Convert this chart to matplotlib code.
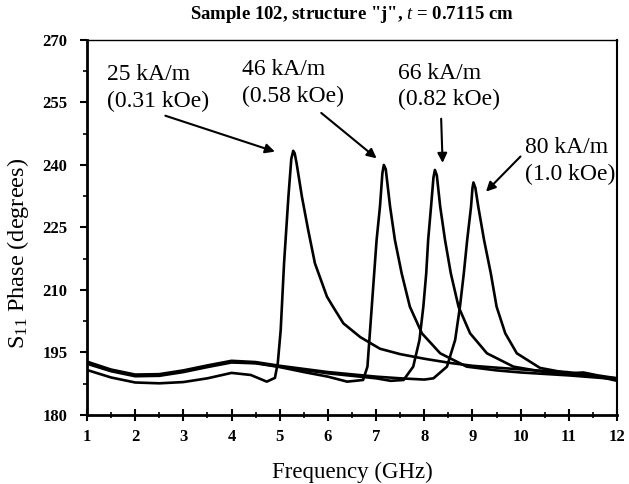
import matplotlib
matplotlib.use("Agg")
import matplotlib.pyplot as plt
from matplotlib.ticker import MultipleLocator

plt.rcParams['font.family'] = ['Liberation Serif', 'DejaVu Serif']
plt.rcParams['mathtext.fontset'] = 'custom'
plt.rcParams['mathtext.rm'] = 'Liberation Serif'
plt.rcParams['mathtext.it'] = 'Liberation Serif:italic'
plt.rcParams['mathtext.bf'] = 'Liberation Serif:bold'

# Data
f_25 = [1.0, 1.5, 2.0, 2.5, 3.0, 3.5, 4.0, 4.4, 4.73, 4.9, 4.96, 5.02, 5.09, 5.18, 5.24, 5.28,
        5.31, 5.35, 5.46, 5.59, 5.73, 5.98, 6.11, 6.32, 6.67, 7.08, 7.5, 8.0, 8.53, 9.0, 9.57,
        10.3, 10.96, 11.5, 12.0]
p_25 = [190.8, 189.0, 187.8, 187.6, 187.9, 188.8, 190.1, 189.6, 188.0, 188.9, 192.5, 200.4,
        216.5, 232.4, 241.5, 243.4, 242.8, 240.4, 232.4, 224.4, 216.4, 208.4, 205.9, 202.0,
        198.7, 195.9, 194.6, 193.5, 192.5, 191.8, 191.3, 190.7, 190.3, 189.5, 188.2]

f_46 = [1.0, 1.5, 2.0, 2.5, 3.0, 3.5, 4.0, 4.5, 5.0, 5.5, 6.0, 6.4, 6.73, 6.82, 6.86, 6.91,
        6.96, 7.01, 7.08, 7.13, 7.16, 7.2, 7.29, 7.39, 7.53, 7.70, 7.95, 8.33, 8.88, 9.5,
        10.0, 11.0, 12.0]
p_46 = [192.3, 190.5, 189.3, 189.4, 190.3, 191.5, 192.6, 192.4, 191.5, 190.3, 189.2, 188.0,
        188.4, 191.6, 198.0, 206.0, 214.0, 222.0, 230.0, 238.0, 240.0, 239.0, 230.0, 222.0,
        214.0, 206.0, 199.6, 194.8, 191.6, 190.7, 190.2, 189.5, 188.6]

f_66 = [1.0, 1.5, 2.0, 2.5, 3.0, 3.5, 4.0, 4.5, 5.0, 6.0, 7.0, 7.3, 7.57, 7.77, 7.90, 7.98,
        8.04, 8.08, 8.14, 8.19, 8.22, 8.26, 8.33, 8.43, 8.55, 8.71, 8.95, 9.30, 9.85, 10.5,
        11.0, 12.0]
p_66 = [192.6, 190.7, 189.5, 189.6, 190.5, 191.7, 192.8, 192.5, 191.6, 190.0, 188.8, 188.2,
        188.4, 191.6, 198.0, 206.0, 214.0, 222.0, 230.0, 237.0, 238.8, 237.5, 230.0, 222.0,
        214.0, 206.0, 199.6, 194.8, 191.6, 190.3, 189.8, 188.8]

f_80 = [1.0, 1.5, 2.0, 2.5, 3.0, 3.5, 4.0, 4.5, 5.0, 6.0, 7.0, 7.5, 8.0, 8.19, 8.47, 8.64,
        8.74, 8.82, 8.89, 8.97, 9.0, 9.02, 9.06, 9.12, 9.24, 9.38, 9.50, 9.68, 9.92, 10.4,
        11.0, 11.3, 11.6, 12.0]
p_80 = [192.8, 190.9, 189.7, 189.8, 190.7, 191.9, 193.0, 192.7, 191.8, 190.3, 189.2, 188.8,
        188.5, 188.8, 191.6, 198.0, 206.0, 214.0, 222.0, 230.0, 234.5, 235.8, 234.5, 230.0,
        222.0, 214.0, 206.0, 199.6, 194.8, 191.3, 190.0, 190.2, 189.5, 188.8]

labels = ["25 kA/m\n(0.31 kOe)", "46 kA/m\n(0.58 kOe)", "66 kA/m\n(0.82 kOe)", "80 kA/m\n(1.0 kOe)"]

fig = plt.figure(figsize=(6.29, 4.84), dpi=100)
ax = fig.add_axes([0.1383, 0.1426, 0.8427, 0.7748])

for f, p in [(f_25, p_25), (f_46, p_46), (f_66, p_66), (f_80, p_80)]:
    ax.plot(f, p, color='black', lw=1.9, solid_joinstyle='round', solid_capstyle='round')

ax.set_xlim(1, 12)
ax.set_ylim(180, 270)
ax.xaxis.set_major_locator(MultipleLocator(1))
ax.xaxis.set_minor_locator(MultipleLocator(0.5))
ax.yaxis.set_major_locator(MultipleLocator(15))
ax.yaxis.set_minor_locator(MultipleLocator(7.5))
ax.tick_params(axis='x', which='major', direction='inout', length=8, width=1.5, labelsize=12, pad=6)
ax.tick_params(axis='x', which='minor', direction='inout', length=5, width=1.2)
ax.tick_params(axis='y', which='major', direction='out', length=5, width=1.5, labelsize=12, pad=9)
ax.tick_params(axis='y', which='minor', direction='out', length=3, width=1.2)
for lab in ax.get_xticklabels() + ax.get_yticklabels():
    lab.set_fontweight('bold')
ax.spines['left'].set_linewidth(2.0)
ax.spines['bottom'].set_linewidth(2.0)
ax.spines['right'].set_linewidth(1.5)
ax.spines['top'].set_linewidth(1.0)

ax.set_xlabel("Frequency (GHz)", fontsize=16.5, labelpad=12)
ax.set_ylabel("S$_{11}$ Phase (degrees)", fontsize=17.5, labelpad=4)
ax.yaxis.set_label_coords(-0.105, 0.43)
ax.set_title('Sample 102, structure "j", $t$ = 0.7115 cm', fontsize=13.5, fontweight='bold', pad=15)

akw = dict(fontsize=17, linespacing=1.33)
# annotations
ax.annotate(labels[0], xy=(4.90, 243.2), xytext=(1.415, 254.0), **akw,
            arrowprops=dict(arrowstyle='-|>', color='black', lw=1.5, mutation_scale=14,
                            shrinkA=3, shrinkB=0, relpos=(0.45, 0.0)))
ax.annotate(labels[1], xy=(7.01, 241.6), xytext=(4.22, 255.2), **akw,
            arrowprops=dict(arrowstyle='-|>', color='black', lw=1.5, mutation_scale=14,
                            shrinkA=4, shrinkB=0, relpos=(0.7, 0.0)))
ax.annotate(labels[2], xy=(8.38, 240.5), xytext=(7.455, 254.3), **akw,
            arrowprops=dict(arrowstyle='-|>', color='black', lw=1.5, mutation_scale=14,
                            shrinkA=4, shrinkB=0, relpos=(0.42, 0.0)))
ax.annotate(labels[3], xy=(9.28, 233.6), xytext=(10.09, 236.4), **akw,
            arrowprops=dict(arrowstyle='-|>', color='black', lw=1.5, mutation_scale=14,
                            shrinkA=0, shrinkB=0, relpos=(-0.05, 0.6)))

fig.savefig("out.png", dpi=100)
